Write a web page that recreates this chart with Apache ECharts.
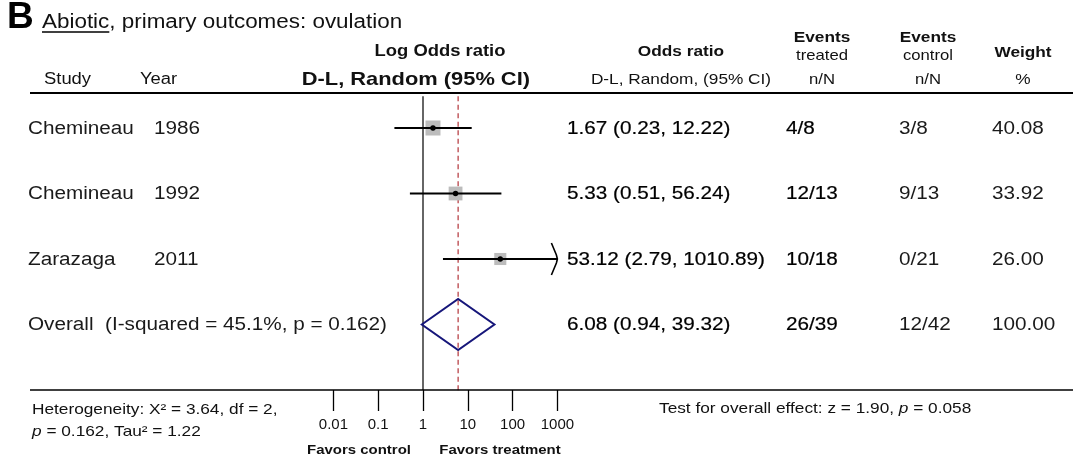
<!DOCTYPE html>
<html>
<head>
<meta charset="utf-8">
<script src="https://cdn.jsdelivr.net/npm/echarts@6/dist/echarts.min.js"></script>
<style>
  html, body { margin: 0; padding: 0; background: #ffffff; }
  #chart { width: 1073px; height: 460px; }
</style>
</head>
<body>
<div id="chart"></div>
<script>
// ---- Forest plot data: abiotic treatments, ovulation outcome ----
const studies = ['Chemineau', 'Chemineau', 'Zarazaga', 'Overall  (I-squared = 45.1%, p = 0.162)'];
const years = ['1986', '1992', '2011', ''];
const oddsRatio = [1.67, 5.33, 53.12, 6.08];
const ciLower = [0.23, 0.51, 2.79, 0.94];
const ciUpper = [12.22, 56.24, 1010.89, 39.32];
const eventsTreated = ['4/8', '12/13', '10/18', '26/39'];
const eventsControl = ['3/8', '9/13', '0/21', '12/42'];
const weights = [40.08, 33.92, 26.00, 100.00];
const tickValues = [0.01, 0.1, 1, 10, 100, 1000];
const tickLabels = ['0.01', '0.1', '1', '10', '100', '1000'];
const nullValue = 1;
const pooledIndex = 3;

// ---- Styling ----
const FONT = '"Liberation Sans", Arial, Helvetica, sans-serif';
const SX = 1.15;               // horizontal text stretch
const X_MIN = 0.01, X_MAX = 1000;
const NAVY = '#16167a';
const RED = '#b3343a';

const chart = echarts.init(document.getElementById('chart'), null, { renderer: 'canvas' });

function txt(x, y, text, size, o) {
  o = o || {};
  return {
    type: 'text', x: x, y: y, scaleX: o.sx === undefined ? SX : o.sx, silent: true, z: 10,
    style: {
      text: text, fontFamily: FONT, fontSize: size,
      fontWeight: o.bold ? 'bold' : 'normal',
      fill: o.color || '#111',
      align: o.align || 'left', textAlign: o.align || 'left',
      verticalAlign: 'middle', textVerticalAlign: 'middle',
      rich: o.rich
    }
  };
}
function hline(x1, x2, y, w) {
  return { type: 'line', silent: true, z: 5, shape: { x1: x1, y1: y, x2: x2, y2: y }, style: { stroke: '#000', lineWidth: w } };
}

const mctx = document.createElement('canvas').getContext('2d');
const TITLE_SIZE = 19.5;
mctx.font = TITLE_SIZE + 'px ' + FONT;
const abioticW = mctx.measureText('Abiotic').width * SX;

const italic = (size) => ({ fontFamily: FONT, fontSize: size, fontStyle: 'italic', fill: '#111' });

const graphics = [
  txt(7, 18, 'B', 37, { bold: true, sx: 1, color: '#000' }),
  txt(42, 23, 'Abiotic, primary outcomes: ovulation', TITLE_SIZE),
  hline(42, 42 + abioticW, 32, 1.3),

  txt(440, 52, 'Log Odds ratio', 16, { bold: true, align: 'center' }),
  txt(530, 80, 'D-L, Random (95% CI)', 19, { bold: true, align: 'right' }),
  txt(44, 80, 'Study', 16),
  txt(140, 80, 'Year', 16),

  txt(681, 52, 'Odds ratio', 15, { bold: true, align: 'center' }),
  txt(681, 80, 'D-L, Random, (95% CI)', 15, { align: 'center' }),
  txt(822, 38, 'Events', 15, { bold: true, align: 'center' }),
  txt(822, 56, 'treated', 14.5, { align: 'center' }),
  txt(822, 80, 'n/N', 14.5, { align: 'center' }),
  txt(928, 38, 'Events', 15, { bold: true, align: 'center' }),
  txt(928, 56, 'control', 14.5, { align: 'center' }),
  txt(928, 80, 'n/N', 14.5, { align: 'center' }),
  txt(1023, 53, 'Weight', 15, { bold: true, align: 'center' }),
  txt(1023, 80, '%', 15, { align: 'center' }),

  hline(30, 1073, 93, 2),
  hline(30, 1073, 390, 1.5),

  txt(32, 410, 'Heterogeneity: X² = 3.64, df = 2,', 15),
  txt(32, 432, '{i|p} = 0.162, Tau² = 1.22', 15, { rich: { i: italic(15) } }),
  txt(659, 409, 'Test for overall effect: z = 1.90, {i|p} = 0.058', 15, { rich: { i: italic(15) } }),
  txt(359, 450, 'Favors control', 13, { bold: true, align: 'center' }),
  txt(500, 450, 'Favors treatment', 13, { bold: true, align: 'center' })
];

const markData = oddsRatio.map((v, i) => [i, v, ciLower[i], ciUpper[i], weights[i]]);
const rowData = studies.map((s, i) => [i, oddsRatio[i]]);

function renderMark(params, api) {
  const i = api.value(0);
  const or = api.value(1), lo = api.value(2), hi = api.value(3), w = api.value(4);
  const p = api.coord([or, i]);
  const xOr = p[0], y = p[1];
  const xLo = api.coord([Math.max(lo, X_MIN), i])[0];
  const xHi = api.coord([Math.min(hi, X_MAX), i])[0];
  if (i === pooledIndex) {
    const h = 25.5;
    return {
      type: 'polygon',
      shape: { points: [[xLo, y], [xOr, y - h], [xHi, y], [xOr, y + h]] },
      style: { fill: 'none', stroke: NAVY, lineWidth: 2 }
    };
  }
  const side = 2.37 * Math.sqrt(w);
  const children = [
    { type: 'rect', shape: { x: xOr - side / 2, y: y - side / 2, width: side, height: side }, style: { fill: '#bcbcbc' } },
    { type: 'line', shape: { x1: xLo, y1: y, x2: xHi, y2: y }, style: { stroke: '#000', lineWidth: 1.8 } },
    { type: 'circle', shape: { cx: xOr, cy: y, r: 2.7 }, style: { fill: '#000' } }
  ];
  if (hi > X_MAX) {
    // open chevron where the interval runs past the axis
    children.push({
      type: 'polyline',
      shape: { points: [[xHi - 6, y - 16], [xHi - 1, y - 4], [xHi, y], [xHi - 1, y + 4], [xHi - 6, y + 16]] },
      style: { stroke: '#000', fill: 'none', lineWidth: 1.6 }
    });
  }
  return { type: 'group', children: children };
}

function renderRefLine(params, api) {
  const x = api.coord([api.value(0), 0])[0];
  const top = api.coord([api.value(0), -0.5])[1] + 1;
  const bottom = api.coord([api.value(0), 4])[1];
  const dashed = params.dataIndex === 1;
  return {
    type: 'line',
    shape: { x1: x, y1: top, x2: x, y2: bottom + (dashed ? 3 : 0) },
    style: dashed
      ? { stroke: RED, lineWidth: 1.2, lineDash: [5, 3.5] }
      : { stroke: '#333', lineWidth: 1.5 }
  };
}

function renderRow(params, api) {
  const i = api.value(0);
  const y = api.coord([1, i])[1] + 1;
  const fs = 18;
  const base = { fontFamily: FONT, fontSize: fs, fill: '#1a1a1a', verticalAlign: 'middle', textVerticalAlign: 'middle' };
  const heavy = Object.assign({}, base, { fill: '#000', stroke: '#000', lineWidth: 0.2 });
  const t = (x, text, style) => ({ type: 'text', x: x, y: y, scaleX: SX, style: Object.assign({ text: text }, style) });
  const label = oddsRatio[i].toFixed(2) + ' (' + ciLower[i].toFixed(2) + ', ' + ciUpper[i].toFixed(2) + ')';
  return {
    type: 'group',
    children: [
      t(28, studies[i], base),
      t(154, years[i], base),
      t(567, label, heavy),
      t(786, eventsTreated[i], heavy),
      t(899, eventsControl[i], base),
      t(992, weights[i].toFixed(2), base)
    ]
  };
}

const option = {
  backgroundColor: '#ffffff',
  animation: false,
  grid: { left: 333.4, right: 1073 - 557.4, top: 95.25, bottom: 70, outerBoundsMode: 'none', containLabel: false },
  xAxis: {
    type: 'log', logBase: 10, min: X_MIN, max: X_MAX, splitNumber: 5,
    axisLine: { show: false, onZero: false },
    axisTick: { show: true, length: 21, lineStyle: { color: '#000', width: 1.3 } },
    axisLabel: {
      show: true, margin: 27, fontSize: 15, fontFamily: FONT, color: '#111',
      formatter: function (v) {
        let best = 0;
        tickValues.forEach((t, k) => { if (Math.abs(Math.log10(t) - Math.log10(v)) < Math.abs(Math.log10(tickValues[best]) - Math.log10(v))) best = k; });
        return tickLabels[best];
      }
    },
    splitLine: { show: false }
  },
  yAxis: { type: 'value', min: -0.5, max: 4, inverse: true, show: false },
  graphic: graphics,
  series: [
    {
      type: 'custom', name: 'reference', z: 1, silent: true,
      data: [[nullValue, 0], [oddsRatio[pooledIndex], 0]],
      encode: { x: 0, y: 1 },
      renderItem: renderRefLine
    },
    {
      type: 'custom', name: 'estimates', z: 3, silent: true,
      data: markData,
      encode: { x: [1, 2, 3], y: 0 },
      renderItem: renderMark
    },
    {
      type: 'custom', name: 'table', z: 4, silent: true,
      data: rowData,
      encode: { x: 1, y: 0 },
      renderItem: renderRow
    }
  ]
};

chart.setOption(option);
</script>
</body>
</html>
